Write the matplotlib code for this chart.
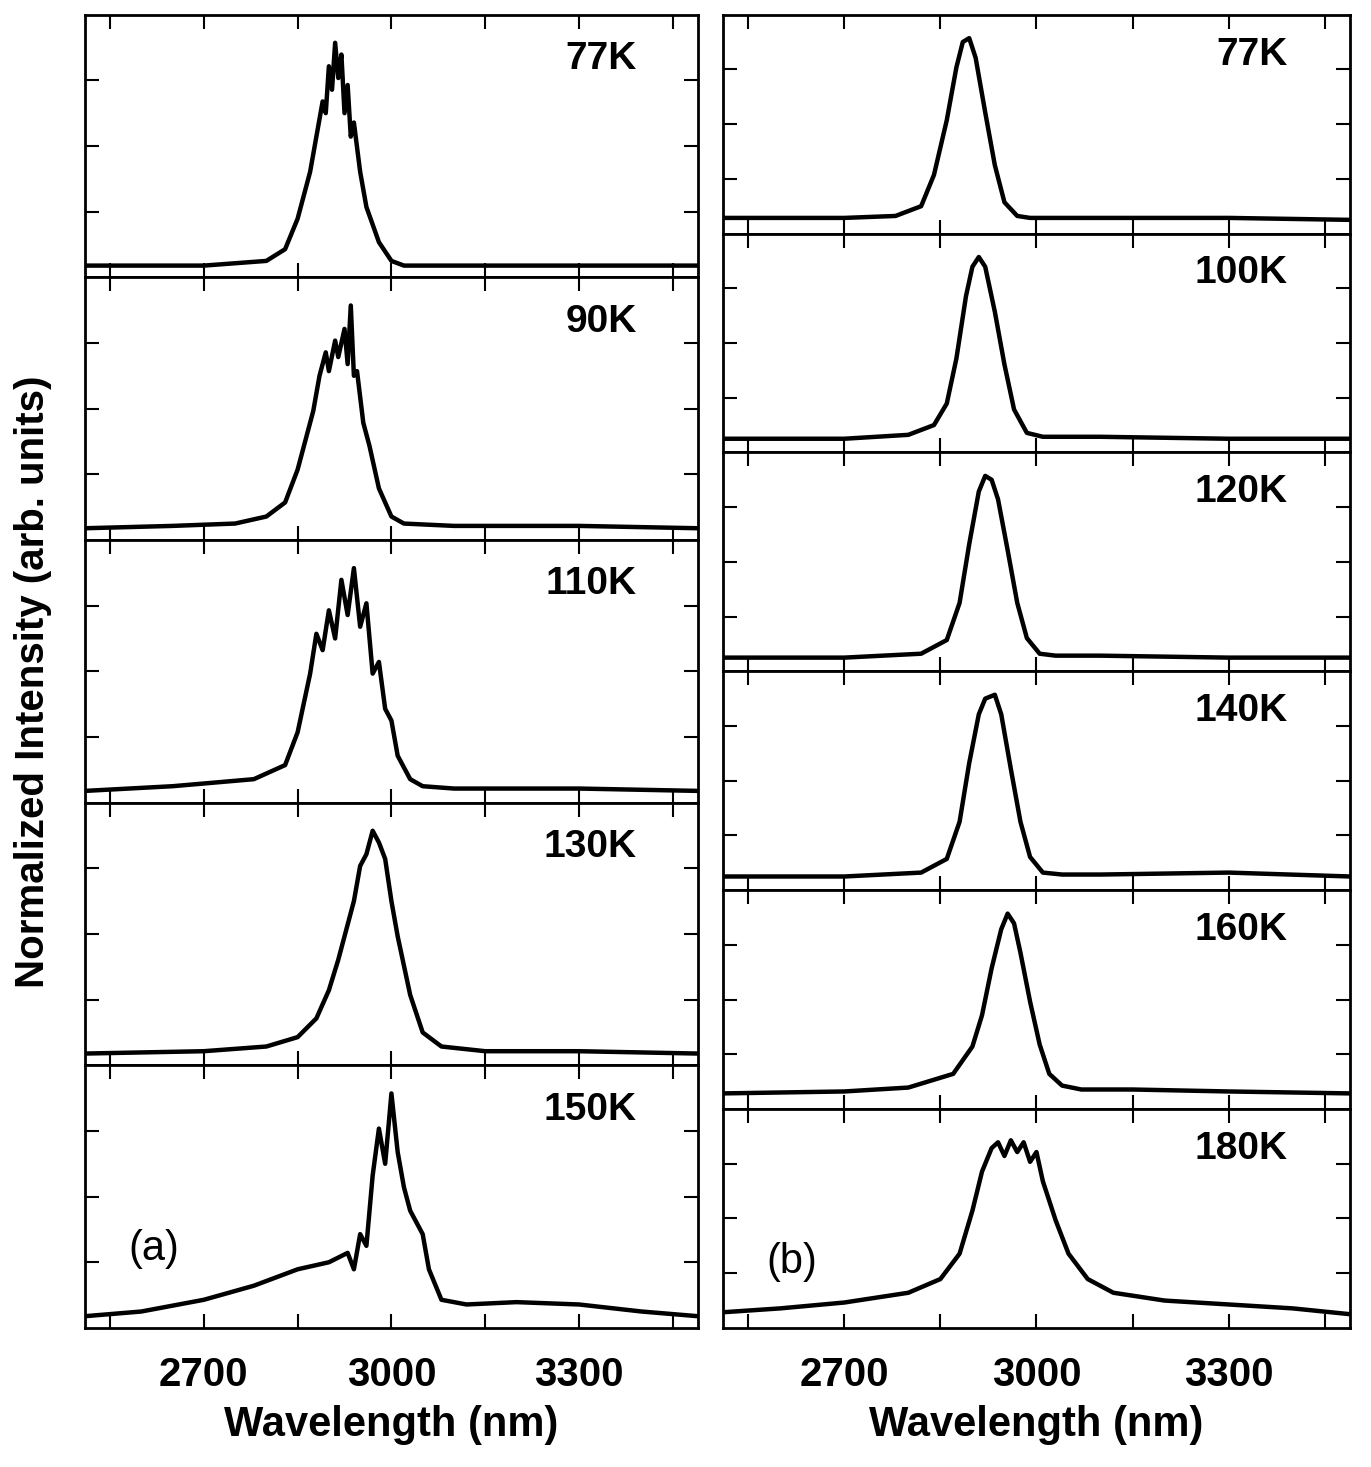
import matplotlib
matplotlib.use("Agg")
import matplotlib.pyplot as plt

# ---- data: (wavelength nm, normalized intensity) ----
left_labels = ["77K", "90K", "110K", "130K", "150K"]
right_labels = ["77K", "100K", "120K", "140K", "160K", "180K"]

L77_w = [2510, 2700, 2800, 2830, 2850, 2870, 2880, 2890, 2895, 2900, 2905, 2910, 2915, 2920, 2925, 2930, 2935, 2940, 2950, 2960, 2980, 3000, 3020, 3100, 3490]
L77_v = [0.05, 0.05, 0.07, 0.12, 0.25, 0.45, 0.60, 0.75, 0.70, 0.90, 0.80, 1.00, 0.85, 0.95, 0.70, 0.82, 0.60, 0.66, 0.45, 0.30, 0.15, 0.07, 0.05, 0.05, 0.05]

L90_w = [2510, 2650, 2750, 2800, 2830, 2850, 2865, 2875, 2885, 2895, 2900, 2910, 2915, 2925, 2930, 2935, 2940, 2945, 2955, 2965, 2980, 3000, 3020, 3100, 3300, 3490]
L90_v = [0.05, 0.06, 0.07, 0.10, 0.16, 0.30, 0.45, 0.55, 0.70, 0.80, 0.72, 0.85, 0.78, 0.90, 0.75, 1.00, 0.70, 0.72, 0.50, 0.40, 0.22, 0.10, 0.07, 0.06, 0.06, 0.05]

L110_w = [2510, 2650, 2780, 2830, 2850, 2870, 2880, 2890, 2900, 2910, 2920, 2930, 2940, 2950, 2960, 2970, 2980, 2990, 3000, 3010, 3030, 3050, 3100, 3300, 3490]
L110_v = [0.05, 0.07, 0.10, 0.16, 0.30, 0.55, 0.72, 0.65, 0.82, 0.70, 0.95, 0.80, 1.00, 0.75, 0.85, 0.55, 0.60, 0.40, 0.35, 0.20, 0.10, 0.07, 0.06, 0.06, 0.05]

L130_w = [2510, 2700, 2800, 2850, 2880, 2900, 2915, 2930, 2940, 2950, 2960, 2970, 2980, 2990, 3000, 3010, 3030, 3050, 3080, 3150, 3300, 3490]
L130_v = [0.05, 0.06, 0.08, 0.12, 0.20, 0.32, 0.45, 0.60, 0.70, 0.85, 0.90, 1.00, 0.95, 0.88, 0.70, 0.55, 0.30, 0.14, 0.08, 0.06, 0.06, 0.05]

L150_w = [2510, 2600, 2700, 2780, 2850, 2900, 2930, 2940, 2950, 2960, 2970, 2980, 2990, 3000, 3010, 3020, 3030, 3040, 3050, 3060, 3080, 3120, 3200, 3300, 3400, 3490]
L150_v = [0.05, 0.07, 0.12, 0.18, 0.25, 0.28, 0.32, 0.25, 0.40, 0.35, 0.65, 0.85, 0.70, 1.00, 0.75, 0.60, 0.50, 0.45, 0.40, 0.25, 0.12, 0.10, 0.11, 0.10, 0.07, 0.05]

R77_w = [2510, 2700, 2780, 2820, 2840, 2860, 2875, 2885, 2895, 2905, 2920, 2935, 2950, 2970, 2990, 3100, 3300, 3490]
R77_v = [0.08, 0.08, 0.09, 0.14, 0.30, 0.58, 0.85, 0.98, 1.00, 0.90, 0.62, 0.35, 0.16, 0.09, 0.08, 0.08, 0.08, 0.07]

R100_w = [2510, 2700, 2800, 2840, 2860, 2875, 2890, 2900, 2910, 2920, 2935, 2950, 2965, 2985, 3010, 3100, 3300, 3490]
R100_v = [0.07, 0.07, 0.09, 0.14, 0.25, 0.48, 0.80, 0.95, 1.00, 0.95, 0.72, 0.45, 0.22, 0.10, 0.08, 0.08, 0.07, 0.07]

R120_w = [2510, 2700, 2820, 2860, 2880, 2895, 2910, 2920, 2930, 2940, 2955, 2970, 2985, 3005, 3030, 3100, 3300, 3490]
R120_v = [0.07, 0.07, 0.09, 0.16, 0.35, 0.65, 0.92, 1.00, 0.98, 0.88, 0.62, 0.35, 0.17, 0.09, 0.08, 0.08, 0.07, 0.07]

R140_w = [2510, 2700, 2820, 2860, 2880, 2895, 2910, 2920, 2935, 2945, 2960, 2975, 2990, 3010, 3040, 3100, 3300, 3490]
R140_v = [0.07, 0.07, 0.09, 0.16, 0.35, 0.65, 0.90, 0.98, 1.00, 0.90, 0.62, 0.35, 0.17, 0.09, 0.08, 0.08, 0.09, 0.07]

R160_w = [2510, 2700, 2800, 2870, 2900, 2915, 2930, 2945, 2955, 2965, 2975, 2990, 3005, 3020, 3040, 3070, 3150, 3300, 3490]
R160_v = [0.08, 0.09, 0.11, 0.18, 0.32, 0.48, 0.72, 0.92, 1.00, 0.95, 0.80, 0.55, 0.33, 0.18, 0.12, 0.10, 0.10, 0.09, 0.08]

R180_w = [2510, 2600, 2700, 2800, 2850, 2880, 2900, 2915, 2930, 2940, 2950, 2960, 2970, 2980, 2990, 3000, 3010, 3030, 3050, 3080, 3120, 3200, 3300, 3400, 3490]
R180_v = [0.08, 0.10, 0.13, 0.18, 0.25, 0.38, 0.60, 0.80, 0.92, 0.95, 0.88, 0.96, 0.90, 0.95, 0.85, 0.90, 0.75, 0.55, 0.38, 0.25, 0.18, 0.14, 0.12, 0.10, 0.07]

left_data = [(L77_w, L77_v), (L90_w, L90_v), (L110_w, L110_v), (L130_w, L130_v), (L150_w, L150_v)]
right_data = [(R77_w, R77_v), (R100_w, R100_v), (R120_w, R120_v), (R140_w, R140_v), (R160_w, R160_v), (R180_w, R180_v)]

xticks_major = [2700, 3000, 3300]
xticks_minor = [2550, 2850, 3150, 3450]

plt.rcParams['font.family'] = ['Liberation Sans', 'DejaVu Sans']
fig = plt.figure(figsize=(13.71, 14.67), dpi=100)

def column(x0, w, data, labels, tag):
    top, bot = 0.990, 0.0948
    n = len(data)
    h = (top - bot) / n
    axes = []
    for i, ((wl, v), lab) in enumerate(zip(data, labels)):
        ax = fig.add_axes([x0, top - (i + 1) * h, w, h])
        ax.plot(wl, v, color='black', lw=3.2, solid_joinstyle='round')
        ax.set_xlim(2510, 3490)
        ax.set_ylim(0, 1.12)
        ax.set_xticks(xticks_major)
        ax.set_xticks(xticks_minor, minor=True)
        ax.set_yticks([0.28, 0.56, 0.84])
        ax.tick_params(which='both', direction='in', top=True, right=True,
                       length=10, width=1.5, labelleft=False)
        ax.tick_params(axis='x', labelsize=29, pad=20)
        for lb in ax.get_xticklabels():
            lb.set_fontweight('bold')
        if i < n - 1:
            ax.tick_params(labelbottom=False)
        for s in ax.spines.values():
            s.set_linewidth(2)
        ax.text(0.90, 0.90, lab, transform=ax.transAxes, ha='right', va='top',
                fontsize=28, fontweight='bold')
        axes.append(ax)
    axes[-1].text(0.07, 0.30, tag, transform=axes[-1].transAxes, fontsize=30,
                  ha='left', va='center')
    axes[-1].set_xlabel("Wavelength (nm)", fontsize=30, fontweight='bold', labelpad=8)
    return axes

la = column(0.062, 0.447, left_data, left_labels, "(a)")
ra = column(0.527, 0.458, right_data, right_labels, "(b)")
fig.text(0.024, 0.535, "Normalized Intensity (arb. units)", rotation=90, fontsize=29,
         fontweight='bold', ha='center', va='center')
fig.savefig("out.png", dpi=100)
